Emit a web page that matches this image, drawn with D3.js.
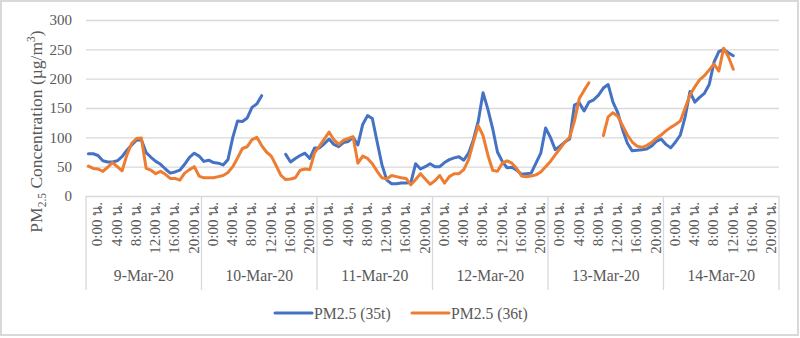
<!DOCTYPE html>
<html><head><meta charset="utf-8">
<script src="https://cdn.jsdelivr.net/npm/d3@7"></script>
<style>body{margin:0;background:#fff}svg{display:block}</style>
</head><body>
<svg id="chart" width="800" height="338"></svg>
<script>
// ---- data ----
const dates = ["9-Mar-20","10-Mar-20","11-Mar-20","12-Mar-20","13-Mar-20","14-Mar-20"];
const hourLabels = ["0:00 น.","1:00 น.","2:00 น.","3:00 น.","4:00 น.","5:00 น.","6:00 น.","7:00 น.",
  "8:00 น.","9:00 น.","10:00 น.","11:00 น.","12:00 น.","13:00 น.","14:00 น.","15:00 น.",
  "16:00 น.","17:00 น.","18:00 น.","19:00 น.","20:00 น.","21:00 น.","22:00 น.","23:00 น."];
const shownHourLabels = ["0:00 น.","4:00 น.","8:00 น.","12:00 น.","16:00 น.","20:00 น."];
const yTicks = [0,50,100,150,200,250,300];
const seriesNames = ["PM2.5 (35t)","PM2.5 (36t)"];
const seriesColors = ["#4472C4","#ED7D31"];

// hourly values, one row per day
const pm35t = [
  72,72,69,60,58,58,60,67,78,87,95,96,74,66,59,54,46,39,41,44,54,66,73,68,
  59,61,57,56,53,62,100,128,127,133,151,157,171,null,null,null,null,71,58,64,69,73,64,82,
  82,89,97,88,84,91,93,100,87,122,137,132,92,53,27,21,21,22,22,23,55,46,50,55,
  50,50,57,62,65,67,61,73,96,127,176,148,115,75,59,48,49,44,37,38,39,56,73,116,
  100,79,85,92,97,155,159,145,160,164,172,184,190,160,142,113,90,77,78,79,80,85,93,97,
  88,82,92,104,135,178,160,168,175,190,228,246,250,244,239,null,null,null,null,null,null,null,null,null
];
const pm36t = [
  51,47,46,42,49,57,50,43,70,90,98,99,47,44,38,42,37,30,30,27,39,45,50,34,
  31,31,31,33,35,40,50,65,81,84,96,100,86,75,68,52,35,28,29,31,44,46,45,74,
  85,97,109,96,88,95,98,101,56,68,64,55,42,31,29,35,33,31,30,19,28,38,29,20,
  26,35,22,33,38,38,45,62,92,120,103,70,44,42,56,60,56,47,34,33,34,36,41,50,
  59,70,81,92,100,128,166,180,193,null,null,103,135,142,136,120,104,92,85,83,86,91,98,104,
  111,117,122,128,150,172,186,198,205,215,225,213,252,237,216,null,null,null,null,null,null,null,null,null
];

// ---- chart ----
const svg = d3.select("#chart");
const textColor = "#595959", gridColor = "#d9d9d9";
const serif = "'Liberation Serif','Times New Roman',serif";
const plot = {left:86, right:779, top:20, bottom:196};

svg.append("rect").attr("x",1).attr("y",1).attr("width",797).attr("height",334)
  .attr("fill","#fff").attr("stroke",gridColor).attr("stroke-width",2);

const keys = dates.flatMap(d => hourLabels.map(h => d + "|" + h));
const x = d3.scaleBand().domain(keys).range([plot.left, plot.right]).padding(0);
const xDay = d3.scaleBand().domain(dates).range([plot.left, plot.right]).padding(0);
const y = d3.scaleLinear().domain([0,300]).range([plot.bottom, plot.top]);

// grid
svg.append("g").selectAll("line").data(yTicks).join("line")
  .attr("x1",plot.left).attr("x2",plot.right)
  .attr("y1",d=>y(d)+0.5).attr("y2",d=>y(d)+0.5)
  .attr("stroke",gridColor).attr("stroke-width",1.3);

// y axis labels
const yAxis = svg.append("g").attr("transform",`translate(${plot.left},0)`)
  .call(d3.axisLeft(y).tickValues(yTicks).tickSize(0).tickPadding(14));
yAxis.select(".domain").remove();
yAxis.selectAll("text").attr("font-family",serif).attr("font-size",15).attr("fill",textColor);

// day separators
svg.append("g").selectAll("line").data(dates.concat(["end"])).join("line")
  .attr("x1",d=> d==="end" ? plot.right : xDay(d)).attr("x2",d=> d==="end" ? plot.right : xDay(d))
  .attr("y1",plot.bottom).attr("y2",290)
  .attr("stroke",gridColor).attr("stroke-width",1.3);

// time labels
const timeAxis = svg.append("g").attr("transform",`translate(8.6,${plot.bottom})`)
  .call(d3.axisBottom(x).tickValues(keys.filter(k => shownHourLabels.includes(k.split("|")[1])))
    .tickFormat(k => k.split("|")[1]).tickSize(0));
timeAxis.select(".domain").remove();
timeAxis.selectAll("text")
  .attr("transform","rotate(-90)").attr("x",-6).attr("y",0).attr("dy","0.35em")
  .attr("text-anchor","end")
  .attr("font-family",serif).attr("font-size",15).attr("fill",textColor);

// date labels
const dayAxis = svg.append("g").attr("transform",`translate(0,275)`)
  .call(d3.axisBottom(xDay).tickSize(0).tickPadding(0));
dayAxis.select(".domain").remove();
dayAxis.selectAll("text").attr("y",0).attr("dy","0.35em")
  .attr("font-family",serif).attr("font-size",15.7).attr("fill",textColor);

// lines
const bw = x.bandwidth();
const series = [pm35t, pm36t];
const line = d3.line().defined(d => d != null)
  .x((d,i) => x(keys[i]) + bw/2).y(d => y(d));
svg.append("g").selectAll("path").data(series).join("path")
  .attr("d", line).attr("fill","none")
  .attr("stroke",(d,i)=>seriesColors[i]).attr("stroke-width",3)
  .attr("stroke-linejoin","round").attr("stroke-linecap","round");

// y title
const title = svg.append("text")
  .attr("transform","translate(41.5,131.5) rotate(-90)")
  .attr("text-anchor","middle").attr("font-family",serif).attr("font-size",17.5).attr("fill",textColor);
title.append("tspan").text("PM");
title.append("tspan").attr("font-size",11.5).attr("dy",4).text("2.5");
title.append("tspan").attr("dy",-4).text(" Concentration (µg/m");
title.append("tspan").attr("font-size",11.5).attr("dy",-7).text("3");
title.append("tspan").attr("dy",7).text(")");

// legend
const legendX = [275, 412];
const lg = svg.append("g").selectAll("g").data(seriesNames).join("g")
  .attr("transform",(d,i)=>`translate(${legendX[i]},313)`);
lg.append("line").attr("x1",0).attr("x2",37).attr("y1",0).attr("y2",0)
  .attr("stroke",(d,i)=>seriesColors[i]).attr("stroke-width",3).attr("stroke-linecap","round");
lg.append("text").attr("x",39).attr("y",0).attr("dy","0.35em")
  .attr("font-family",serif).attr("font-size",15.7).attr("fill",textColor).text(d=>d);
</script>
</body></html>
